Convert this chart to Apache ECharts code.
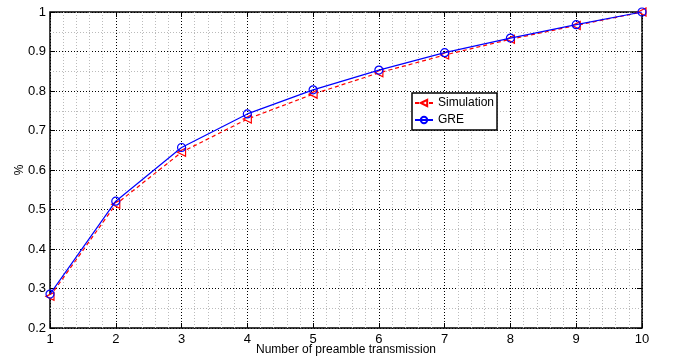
<!DOCTYPE html>
<html>
<head>
<meta charset="utf-8">
<script src="https://cdn.jsdelivr.net/npm/echarts@6/dist/echarts.min.js"></script>
<style>
  html, body { margin: 0; padding: 0; background: #fff; }
  #chart { width: 678px; height: 358px; }
</style>
</head>
<body>
<div id="chart"></div>
<script>
const transmissions = [1, 2, 3, 4, 5, 6, 7, 8, 9, 10]
const simulation = [0.280, 0.513, 0.645, 0.729, 0.792, 0.846, 0.891, 0.931, 0.966, 1.0]
const gre = [0.286, 0.521, 0.657, 0.742, 0.803, 0.853, 0.897, 0.934, 0.968, 1.0]

const font = 'Liberation Sans, Arial, Helvetica, sans-serif'
const chart = echarts.init(document.getElementById('chart'))

const majorGrid = { show: true, lineStyle: { color: '#000', type: [1, 2], width: 1 } }
const minorGrid = { show: true, lineStyle: { color: '#bbb', type: [1, 2], width: 1 } }

function pairs(ys) {
  return transmissions.map((x, i) => [x, ys[i]])
}

chart.setOption({
  animation: false,
  textStyle: { fontFamily: font },
  grid: {
    left: 50, right: 36, top: 12, bottom: 30,
    outerBoundsMode: 'none',
    show: true, borderColor: '#000', borderWidth: 1.5, backgroundColor: '#fff'
  },
  legend: {
    left: 412, top: 93,
    orient: 'vertical',
    backgroundColor: '#fff',
    borderColor: '#000', borderWidth: 1.5,
    padding: [4, 3, 4, 2],
    itemGap: 5,
    itemWidth: 18, itemHeight: 8,
    textStyle: { fontSize: 12, color: '#000', fontFamily: font },
    data: ['Simulation', 'GRE']
  },
  xAxis: [{
    type: 'value', min: 1, max: 10, interval: 1,
    name: 'Number of preamble transmission',
    nameLocation: 'middle', nameGap: 16, nameMoveOverlap: false,
    nameTextStyle: { fontSize: 12, color: '#000' },
    axisLine: { show: false },
    axisTick: { show: true, inside: true, length: 5, lineStyle: { color: '#000' } },
    axisLabel: { color: '#000', fontSize: 13, margin: 5 },
    splitLine: majorGrid,
    minorTick: { show: false, splitNumber: 5 },
    minorSplitLine: minorGrid
  }, {
    type: 'value', min: 1, max: 10, interval: 1, position: 'top',
    axisLine: { show: false },
    axisTick: { show: true, inside: true, length: 5, lineStyle: { color: '#000' } },
    axisLabel: { show: false },
    splitLine: { show: false }
  }],
  yAxis: [{
    type: 'value', min: 0.2, max: 1, interval: 0.1,
    name: '%', nameLocation: 'middle', nameGap: 24, nameMoveOverlap: false,
    nameTextStyle: { fontSize: 12, color: '#000' },
    axisLine: { show: false },
    axisTick: { show: true, inside: true, length: 5, lineStyle: { color: '#000' } },
    axisLabel: { color: '#000', fontSize: 13, margin: 4,
      formatter: v => String(Math.round(v * 10) / 10) },
    splitLine: majorGrid,
    minorTick: { show: false, splitNumber: 2 },
    minorSplitLine: minorGrid
  }, {
    type: 'value', min: 0.2, max: 1, interval: 0.1, position: 'right',
    axisLine: { show: false },
    axisTick: { show: true, inside: true, length: 5, lineStyle: { color: '#000' } },
    axisLabel: { show: false },
    splitLine: { show: false }
  }],
  series: [{
    name: 'Simulation',
    type: 'line',
    data: pairs(simulation),
    symbol: 'triangle', symbolRotate: 90, symbolSize: 8,
    lineStyle: { color: '#ff0000', type: [4, 3], width: 1.2 },
    itemStyle: { color: '#fff', borderColor: '#ff0000', borderWidth: 1.2 },
    z: 3
  }, {
    name: 'GRE',
    type: 'line',
    data: pairs(gre),
    symbol: 'circle', symbolSize: 8,
    lineStyle: { color: '#0000ff', width: 1.2 },
    itemStyle: { color: 'rgba(255,255,255,0)', borderColor: '#0000ff', borderWidth: 1.2 },
    z: 4
  }]
})
</script>
</body>
</html>
